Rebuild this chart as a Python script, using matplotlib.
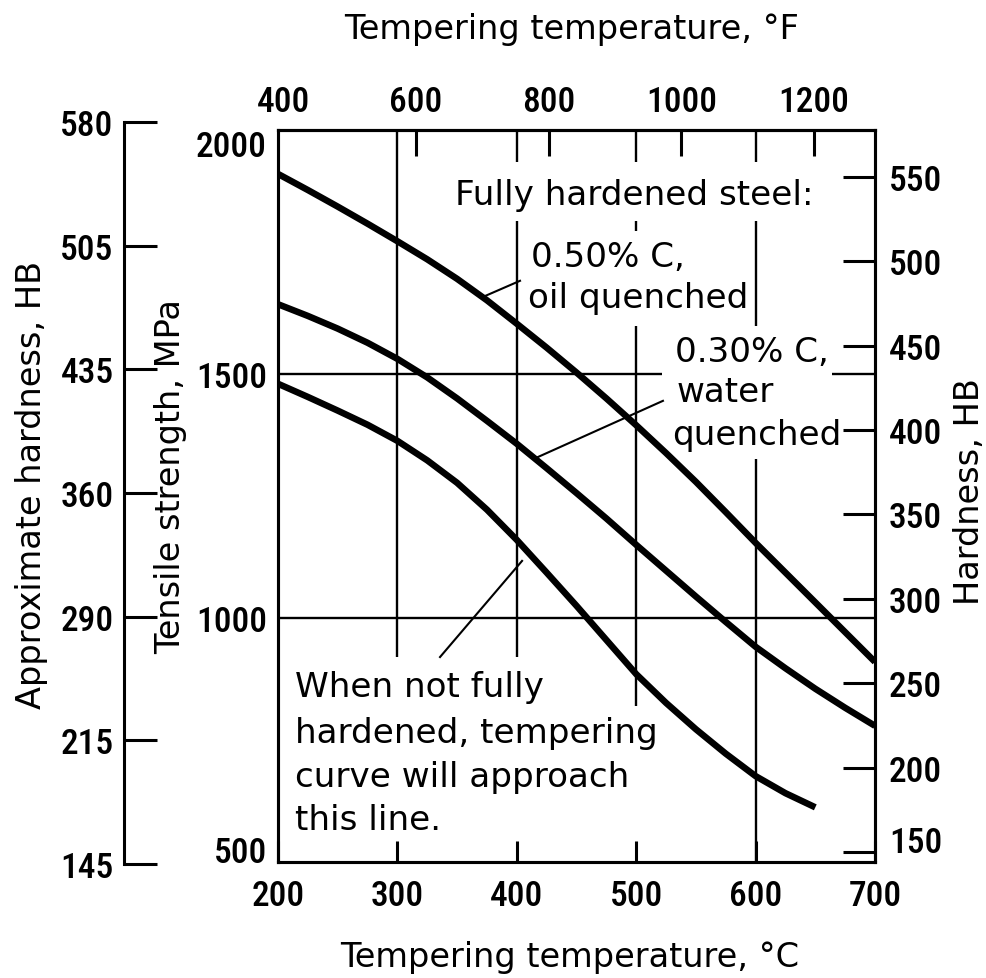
import matplotlib
matplotlib.use("Agg")
import matplotlib.pyplot as plt

# ---- data -------------------------------------------------------------
temp_c = [200, 225, 250, 275, 300, 325, 350, 375, 400, 425, 450,
          475, 500, 525, 550, 575, 600, 625, 650, 675, 700]
ts_050c_oil = [1910, 1877, 1843, 1808, 1772, 1735, 1695, 1651, 1603, 1554, 1503,
               1450, 1395, 1338, 1279, 1217, 1154, 1093, 1032, 971, 910]
ts_030c_water = [1643, 1619, 1593, 1564, 1531, 1493, 1450, 1404, 1357, 1307, 1256,
                 1204, 1150, 1097, 1044, 992, 941, 897, 855, 816, 779]
temp_c_partial = [200, 225, 250, 275, 300, 325, 350, 375, 400, 425, 450,
                  475, 500, 525, 550, 575, 600, 625, 650]
ts_partial = [1480, 1453, 1425, 1396, 1363, 1323, 1277, 1222, 1160, 1093, 1025,
              955, 885, 826, 772, 722, 676, 641, 612]

c_ticks = [200, 300, 400, 500, 600, 700]
f_ticks = [400, 600, 800, 1000, 1200]
mpa_ticks = [500, 1000, 1500, 2000]
hb_ticks = [150, 200, 250, 300, 350, 400, 450, 500, 550]
approx_hb_labels = ["580", "505", "435", "360", "290", "215", "145"]
approx_hb_mpa = [2000, 1750, 1500, 1250, 1000, 750, 500]

# right-hand hardness scale: two reference pairs (HB, MPa)
hb_ref = (150, 550)
mpa_ref = (520.5, 1903.7)

# ---- styling ----------------------------------------------------------
W, H = 987, 979
TXT = "DejaVu Sans"
NUM = "Roboto Condensed"
NUM_WEIGHT = "medium"
TXT_SIZE = 24.6
NUM_SIZE = 25.5
LW_SPINE = 2.2
LW_GRID = 1.7
LW_CURVE = 4.7

fig = plt.figure(figsize=(W / 100, H / 100), dpi=100)


def fx(px):
    return px / W


def fy(py):
    return 1 - py / H


numfont = dict(family=NUM, size=NUM_SIZE, weight=NUM_WEIGHT)

ax = fig.add_axes([fx(278), fy(863), fx(875) - fx(278), fy(131) - fy(863)])
ax.set_xlim(200, 700)
ax.set_ylim(500, 2000)
for s in ax.spines.values():
    s.set_linewidth(LW_SPINE)

ax.set_xticks(c_ticks)
ax.set_xticklabels([str(v) for v in c_ticks], **numfont)
ax.tick_params(axis="x", direction="in", length=15, width=LW_SPINE, pad=12.5)
ax.set_yticks(mpa_ticks)
ax.set_yticklabels([str(v) for v in mpa_ticks], **numfont)
ax.tick_params(axis="y", direction="in", length=0, pad=8)
ylabs = ax.get_yticklabels()
ylabs[0].set_va("baseline")
ylabs[-1].set_va("top")

# reference grid, broken around the annotations
gk = dict(color="black", lw=LW_GRID, zorder=1)
ax.vlines(300, 920, 2000, **gk)
ax.vlines(400, 1934, 2000, **gk)
ax.vlines(400, 920, 1813, **gk)
ax.vlines(500, 1934, 2000, **gk)
ax.vlines(500, 1793, 1813, **gk)
ax.vlines(500, 820, 1598, **gk)
ax.vlines(600, 1934, 2000, **gk)
ax.vlines(600, 1598, 1813, **gk)
ax.vlines(600, 500, 1326, **gk)
ax.hlines(1500, 200, 521.6, **gk)
ax.hlines(1500, 664, 700, **gk)
ax.hlines(1000, 200, 700, **gk)

# tempering curves
ck = dict(color="black", lw=LW_CURVE, solid_capstyle="butt",
          solid_joinstyle="round", zorder=3)
ax.plot(temp_c, ts_050c_oil, **ck)
ax.plot(temp_c, ts_030c_water, **ck)
ax.plot(temp_c_partial, ts_partial, **ck)

# annotations
tk = dict(family=TXT, size=TXT_SIZE, ha="left", va="baseline", zorder=4)
ax.text(348.2, 1848, "Fully hardened steel:", **tk)
ax.text(411.9, 1721, "0.50% C,", **tk)
ax.text(409.4, 1637, "oil quenched", **tk)
ax.text(532.5, 1527, "0.30% C,", **tk)
ax.text(534.2, 1445, "water", **tk)
ax.text(530.0, 1357, "quenched", **tk)
ax.text(214.2, 840, "When not fully", **tk)
ax.text(214.2, 746, "hardened, tempering", **tk)
ax.text(214.2, 656, "curve will approach", **tk)
ax.text(214.2, 568, "this line.", **tk)

lk = dict(color="black", lw=1.5, zorder=2)
ax.plot([371.7, 402.7], [1658, 1691], **lk)
ax.plot([417.8, 522.4], [1330, 1445], **lk)
ax.plot([404.4, 335.7], [1117, 920], **lk)


# top scale in degrees Fahrenheit
def c2f(c):
    return c * 9 / 5 + 32


def f2c(f):
    return (f - 32) * 5 / 9


axf = ax.secondary_xaxis("top", functions=(c2f, f2c))
axf.set_xticks(f_ticks)
axf.set_xticklabels([str(v) for v in f_ticks], **numfont)
axf.tick_params(axis="x", direction="in", length=18.7, width=LW_SPINE, pad=8.4)
axf.spines["top"].set_linewidth(LW_SPINE)
first = axf.xaxis.get_major_ticks()[0]
first.tick1line.set_visible(False)
first.tick2line.set_visible(False)

# right-hand hardness scale
slope = (mpa_ref[1] - mpa_ref[0]) / (hb_ref[1] - hb_ref[0])
hb_lo = hb_ref[0] + (500 - mpa_ref[0]) / slope
hb_hi = hb_ref[0] + (2000 - mpa_ref[0]) / slope
axr = ax.twinx()
axr.set_ylim(hb_lo, hb_hi)
axr.set_yticks(hb_ticks)
axr.set_yticklabels([str(v) for v in hb_ticks], **numfont)
axr.tick_params(axis="y", direction="in", length=23, width=LW_SPINE, pad=10)
axr.get_yticklabels()[0].set_va("baseline")
for s in axr.spines.values():
    s.set_linewidth(LW_SPINE)

# far-left approximate hardness scale
axl = fig.add_axes([fx(124), fy(865), 0.05, fy(123) - fy(865)])
axl.set_ylim(500, 2000)
axl.patch.set_visible(False)
for s in ("top", "right", "bottom"):
    axl.spines[s].set_visible(False)
axl.spines["left"].set_linewidth(LW_SPINE)
axl.set_xticks([])
axl.set_yticks(approx_hb_mpa)
axl.set_yticklabels(approx_hb_labels, **numfont)
axl.tick_params(axis="y", direction="in", length=23.5, width=LW_SPINE, pad=7.5)

# axis titles
lab = dict(family=TXT, size=24.2, ha="center", va="center")
fig.text(fx(32), fy(485), "Approximate hardness, HB", rotation=90, **lab)
fig.text(fx(171), fy(477), "Tensile strength, MPa", rotation=90, **lab)
fig.text(fx(970), fy(492), "Hardness, HB", rotation=90, **lab)
fig.text(fx(572), fy(30), "Tempering temperature, °F", **lab)
fig.text(fx(570), fy(958), "Tempering temperature, °C", **lab)

fig.savefig("out.png", dpi=100)
